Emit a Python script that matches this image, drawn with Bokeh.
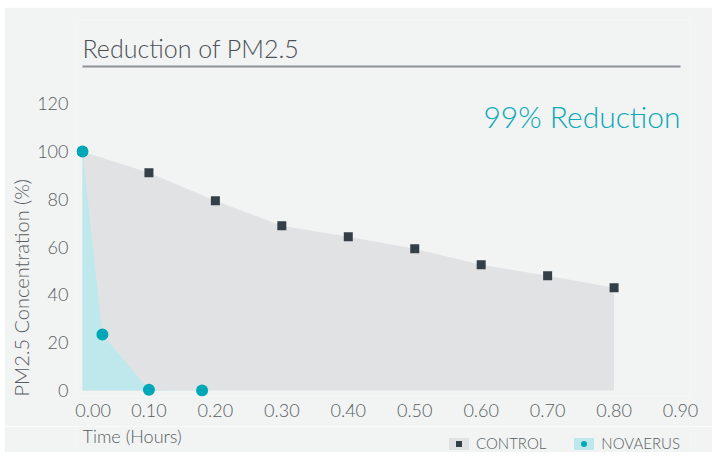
from bokeh.plotting import figure
from bokeh.layouts import column
from bokeh.models import (ColumnDataSource, FixedTicker, Label, Legend, LegendItem, Range1d, Title)
from bokeh.embed import file_html
from bokeh.resources import INLINE

# ---- data ----
control_t = [0.0, 0.1, 0.2, 0.3, 0.4, 0.5, 0.6, 0.7, 0.8]
control_v = [100, 91.1, 79.4, 68.9, 64.3, 59.3, 52.6, 48.0, 43.0]
novaerus_t = [0.0, 0.03, 0.1, 0.18]
novaerus_v = [100, 23.4, 0.3, 0.0]
x_ticks = [0.016, 0.1, 0.2, 0.3, 0.4, 0.5, 0.6, 0.7, 0.8, 0.9]
x_tick_labels = ["0.00", "0.10", "0.20", "0.30", "0.40", "0.50", "0.60", "0.70", "0.80", "0.90"]
y_ticks = [0, 20, 40, 60, 80, 100, 120]

BG = "#f2f4f3"
TXT = "#565c61"
FONT = "Lato Light"
GREY_AREA = "#e1e2e4"
CYAN_AREA = "#bfe8ec"
SQ = "#353f48"
TEAL = "#00a7b7"

ctrl = ColumnDataSource(dict(t=control_t, v=control_v, z=[0] * len(control_t)))
nov = ColumnDataSource(dict(t=novaerus_t, v=novaerus_v, z=[0] * len(novaerus_t)))

xr = Range1d(-0.009, 0.915)
p = figure(width=708, height=419, output_backend="svg", toolbar_location=None,
           x_range=xr, y_range=(-2.5, 154.8),
           min_border_left=72, min_border_right=22, min_border_top=13, min_border_bottom=30)
p.background_fill_color = BG
p.border_fill_color = BG
p.outline_line_color = None
p.grid.visible = False

p.varea(x="t", y1="z", y2="v", source=ctrl, fill_color=GREY_AREA)
p.varea(x="t", y1="z", y2="v", source=nov, fill_color=CYAN_AREA)
p.scatter(x="t", y="v", source=ctrl, marker="square", size=9, fill_color=SQ, line_color=None)
p.scatter(x="t", y="v", source=nov, marker="circle", size=12, fill_color=TEAL, line_color=None)

# axes
p.xaxis.ticker = FixedTicker(ticks=x_ticks)
p.xaxis.major_label_overrides = {t: l for t, l in zip(x_ticks, x_tick_labels)}
p.yaxis.ticker = FixedTicker(ticks=y_ticks)
for ax in (p.xaxis, p.yaxis):
    ax.axis_line_color = None
    ax.major_tick_line_color = None
    ax.minor_tick_line_color = None
    ax.major_tick_out = 0
    ax.major_tick_in = 0
    ax.major_label_text_font = FONT
    ax.major_label_text_font_size = "18px"
    ax.major_label_text_color = TXT
p.xaxis.major_label_standoff = 7
p.yaxis.major_label_standoff = 8

# y-axis title, aligned to the bottom of the plot area
p.add_layout(Title(text="PM2.5 Concentration (%)", align="left", text_font=FONT,
                   text_font_size="20px", text_font_style="normal", text_color=TXT,
                   standoff=4, offset=0), "left")

# title, underline, annotation
p.add_layout(Label(x=0, y=143.5, text="Reduction of PM2.5", text_font=FONT,
                   text_font_size="25px", text_color="#4a5056", text_baseline="middle"))
p.segment(x0=[0], x1=[0.9], y0=[135.6], y1=[135.6], line_color="#8c9297", line_width=2)
p.add_layout(Label(x=0.9, y=115, text="99% Reduction", text_font=FONT,
                   text_font_size="30px", text_color="#0aa8b8", text_align="right",
                   text_baseline="middle"))

# footer: axis title + legend
f = figure(width=708, height=26, output_backend="svg", toolbar_location=None,
           x_range=xr, y_range=(1000, 1001), x_axis_location=None, y_axis_location=None,
           min_border_left=72, min_border_right=22, min_border_top=0, min_border_bottom=0)
f.background_fill_color = BG
f.border_fill_color = BG
f.outline_line_color = None
f.grid.visible = False
f.add_layout(Label(x=0, y=17, y_units="screen", text="Time (Hours)", text_font=FONT,
                   text_font_size="18px", text_color=TXT, text_baseline="middle"))
la = f.varea(x="t", y1="z", y2="v", source=ctrl, fill_color=GREY_AREA)
lb = f.varea(x="t", y1="z", y2="v", source=nov, fill_color=CYAN_AREA)
ls = f.scatter(x="t", y="v", source=ctrl, marker="square", size=9, fill_color=SQ, line_color=None)
lc = f.scatter(x="t", y="v", source=nov, marker="circle", size=12, fill_color=TEAL, line_color=None)
legend = Legend(items=[LegendItem(label="CONTROL", renderers=[la, ls]),
                       LegendItem(label="NOVAERUS", renderers=[lb, lc])],
                orientation="horizontal", location=(370, 0),
                background_fill_alpha=0, border_line_alpha=0,
                label_text_font=FONT, label_text_font_size="15px", label_text_color=TXT,
                glyph_width=25, glyph_height=15, label_height=15, spacing=25,
                padding=0, margin=0, label_standoff=5)
f.add_layout(legend)

layout = column(p, f, spacing=0, margin=(7, 0, 0, 4))
open("out.html", "w").write(file_html(layout, INLINE))
